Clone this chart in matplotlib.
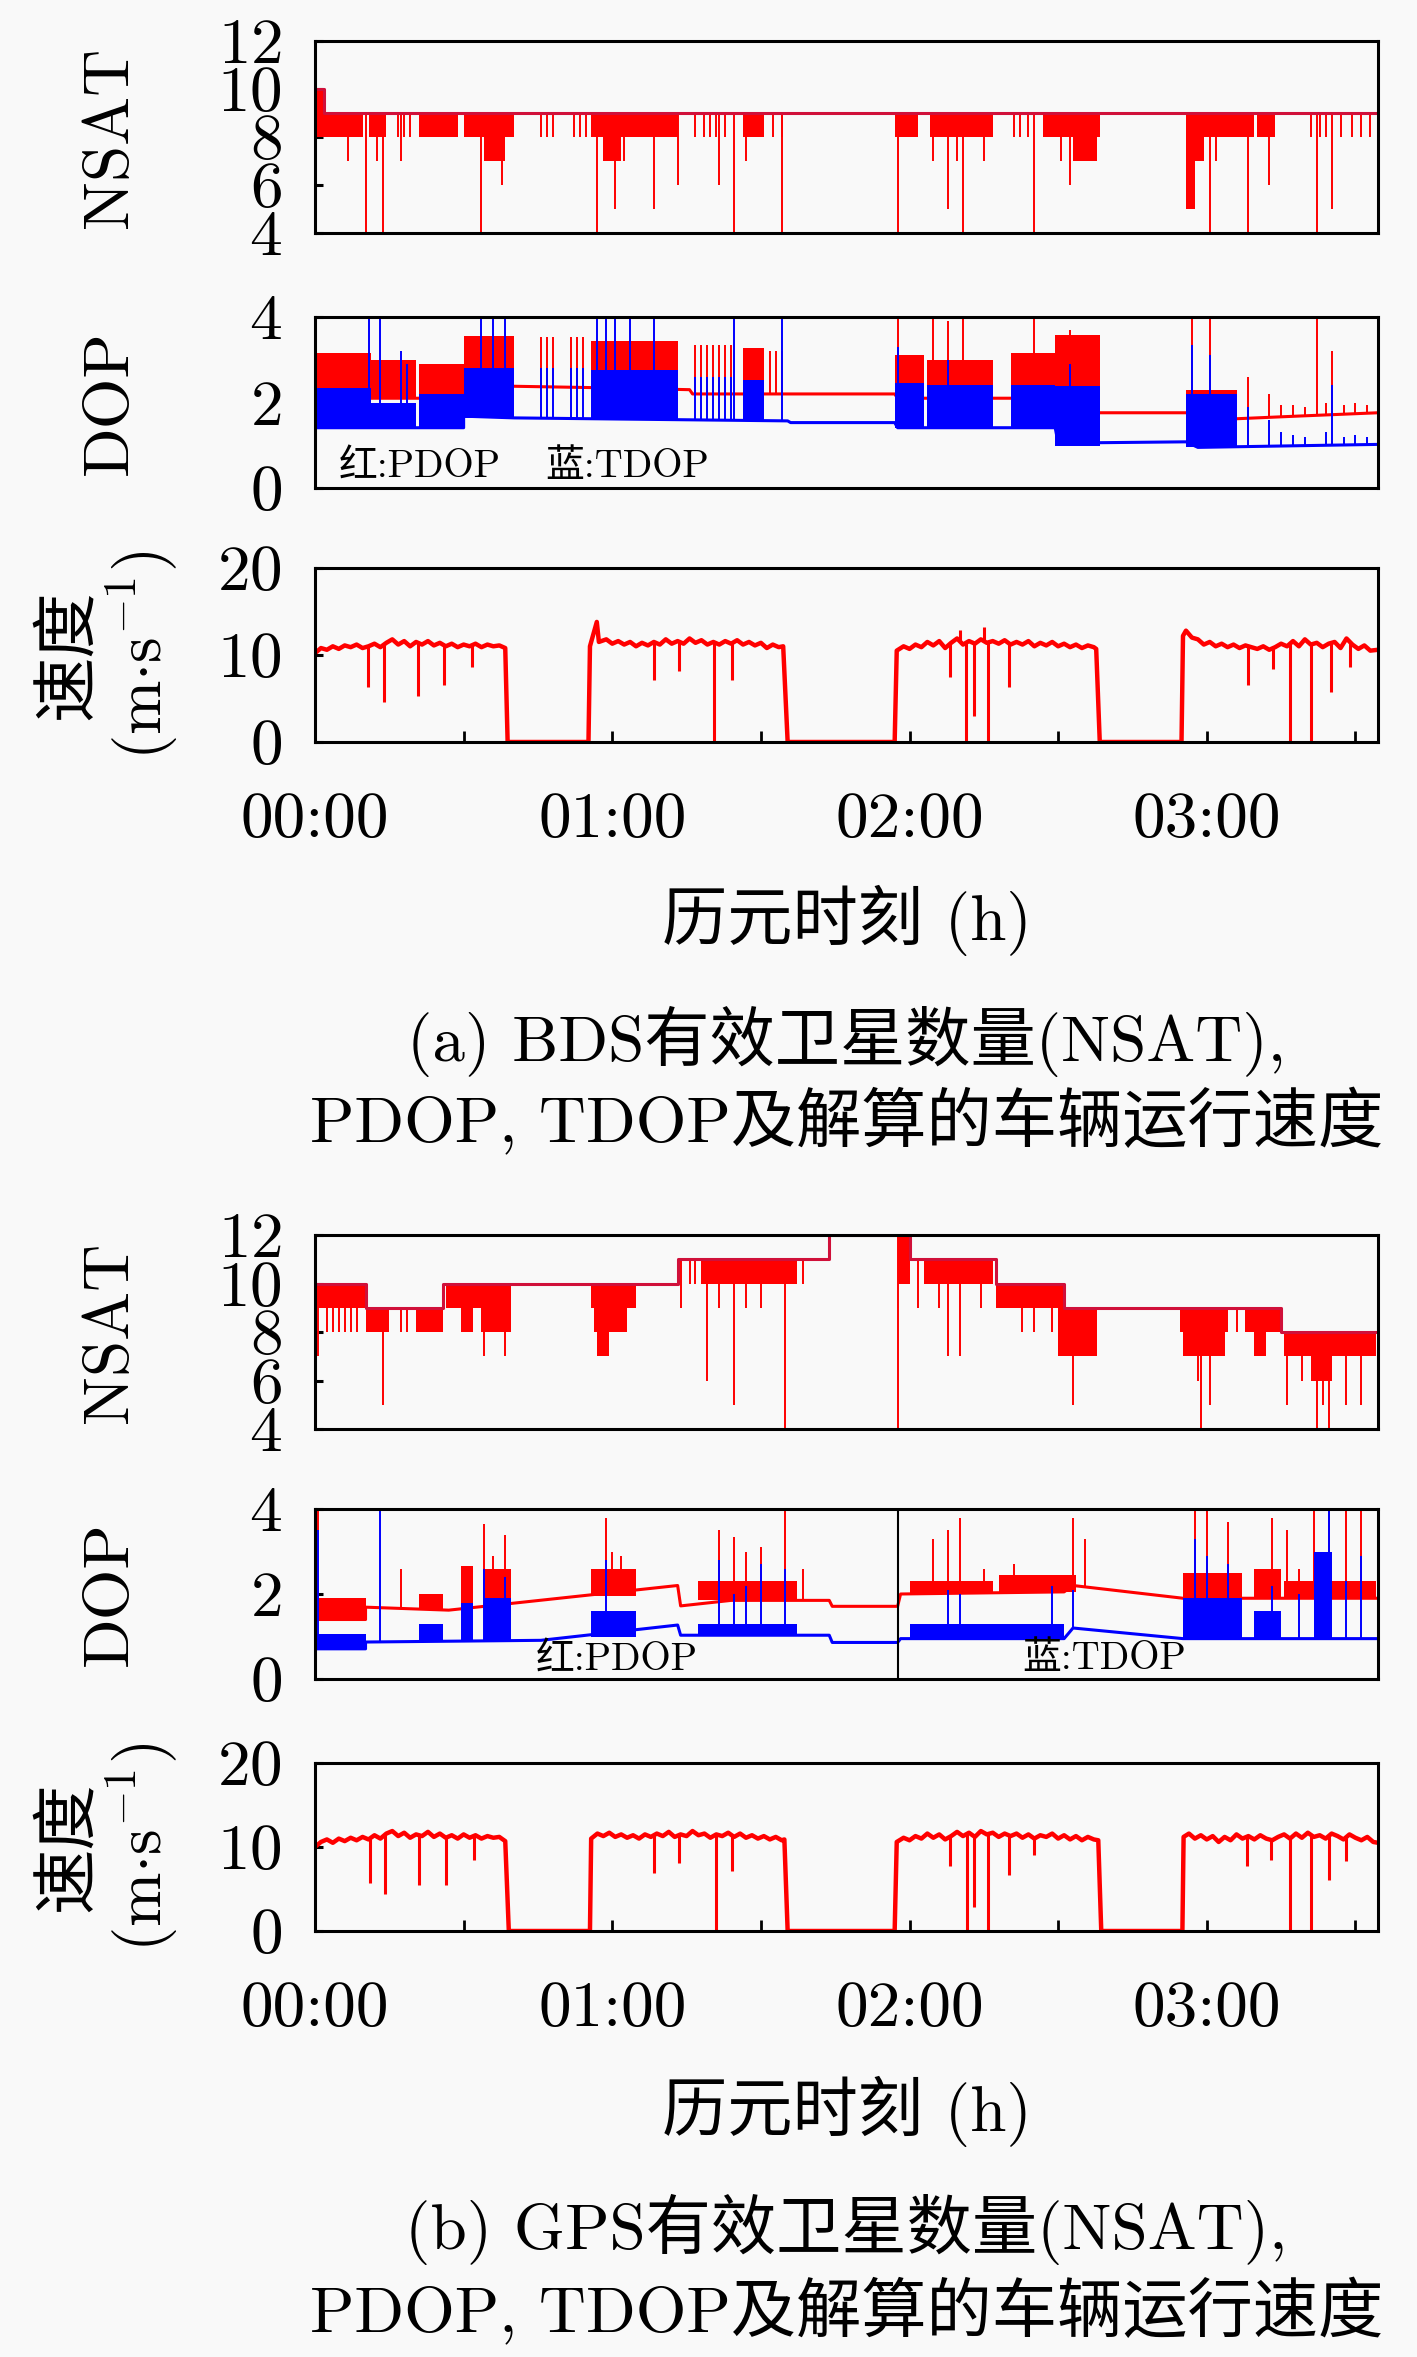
import numpy as np
import matplotlib
matplotlib.use("Agg")
import matplotlib.pyplot as plt

plt.rcParams['font.family'] = ['cmr10', 'Noto Sans CJK SC']
plt.rcParams['mathtext.fontset'] = 'cm'
plt.rcParams['axes.unicode_minus'] = False
plt.rcParams['axes.formatter.use_mathtext'] = True

RED = '#ff0000'
BLUE = '#0000ff'
BG = '#f9f9f9'
T_END = 3.576

# ---------------- time axis ----------------
xtick_pos = [0, 1, 2, 3]
xtick_lab = ['00:00', '01:00', '02:00', '03:00']
xminor_pos = [0.5, 1.5, 2.5, 3.5]

# ================= (a) BDS =================
nsat_a_base_t = [0.0, 0.03, T_END]
nsat_a_base_v = [10, 9, 9]
nsat_a_band_t0 = [0.00, 0.03, 0.18, 0.35, 0.50, 0.93, 1.44, 1.95, 2.07, 2.45, 2.93, 3.17, 0.57, 0.97, 2.55, 2.93, 2.93]
nsat_a_band_t1 = [0.03, 0.16, 0.24, 0.48, 0.67, 1.22, 1.51, 2.03, 2.28, 2.64, 3.16, 3.23, 0.64, 1.03, 2.63, 2.99, 2.96]
nsat_a_band_lo = [8, 8, 8, 8, 8, 8, 8, 8, 8, 8, 8, 8, 7, 7, 7, 7, 5]
nsat_a_band_hi = [10, 9, 9, 9, 9, 9, 9, 9, 9, 9, 9, 9, 8, 8, 8, 8, 7]
nsat_a_spk_t = [0.28, 0.30, 0.32, 0.76, 0.78, 0.80, 0.87, 0.89, 0.91, 1.28, 1.31, 1.33, 1.35, 1.38,
                1.54, 1.57, 2.35, 2.37, 2.40, 3.35, 3.38, 3.40, 3.45, 3.49, 3.52, 3.55,
                0.11, 0.17, 0.21, 0.23, 0.29, 0.56, 0.63, 0.95, 1.01, 1.04, 1.14, 1.22, 1.36, 1.41,
                1.45, 1.57, 1.96, 2.08, 2.13, 2.16, 2.18, 2.25, 2.42, 2.51, 2.54, 2.95, 3.01, 3.03,
                3.14, 3.21, 3.37, 3.42]
nsat_a_spk_v = [8, 8, 8, 8, 8, 8, 8, 8, 8, 8, 8, 8, 8, 8,
                8, 8, 8, 8, 8, 8, 8, 8, 8, 8, 8, 8,
                7, 4, 7, 4, 7, 4, 6, 4, 5, 7, 5, 6, 6, 4,
                7, 4, 4, 7, 5, 7, 4, 7, 4, 7, 6, 5, 4, 7,
                4, 6, 4, 5]

pdop_a_base_t = [0, 0.50, 0.50, 0.92, 1.26, 1.27, 1.95, 1.96, 2.55, 2.56, 2.93, 3.10, 3.30, T_END]
pdop_a_base_v = [2.1, 2.1, 2.4, 2.35, 2.3, 2.2, 2.2, 2.1, 2.1, 1.76, 1.76, 1.62, 1.68, 1.76]
pdop_a_band_t0 = [0.00, 0.19, 0.35, 0.50, 0.93, 1.44, 1.95, 2.06, 2.34, 2.49, 2.93]
pdop_a_band_t1 = [0.19, 0.34, 0.50, 0.67, 1.22, 1.51, 2.05, 2.28, 2.49, 2.64, 3.10]
pdop_a_band_lo = [2.1, 2.1, 2.1, 2.4, 2.35, 2.3, 2.1, 2.1, 2.1, 2.1, 1.7]
pdop_a_band_hi = [3.15, 3.0, 2.9, 3.56, 3.45, 3.27, 3.1, 3.0, 3.15, 3.57, 2.3]
pdop_a_spk_t = [0.76, 0.78, 0.80, 0.86, 0.88, 0.90, 1.28, 1.30, 1.32, 1.34, 1.36, 1.38, 1.40,
                1.53, 1.55, 1.57, 1.96, 2.08, 2.18, 2.42, 2.95, 3.01, 3.37, 2.13, 2.54,
                3.14, 3.21, 3.25, 3.29, 3.33, 3.40, 3.42, 3.46, 3.50, 3.54]
pdop_a_spk_v = [3.54, 3.54, 3.54, 3.54, 3.54, 3.54, 3.34, 3.34, 3.34, 3.34, 3.34, 3.34, 3.34,
                3.2, 3.2, 3.2, 4, 4, 4, 4, 4, 4, 4, 3.9, 3.7,
                2.6, 2.2, 1.95, 1.95, 1.9, 2.0, 3.2, 1.95, 2.0, 1.95]

tdop_a_base_t = [0, 0.50, 0.50, 0.67, 1.59, 1.60, 1.95, 1.96, 2.49, 2.50, 2.93, 2.97, T_END]
tdop_a_base_v = [1.41, 1.41, 1.68, 1.64, 1.57, 1.53, 1.53, 1.41, 1.41, 1.05, 1.08, 0.95, 1.02]
tdop_a_band_t0 = [0.00, 0.19, 0.35, 0.50, 0.93, 1.44, 1.95, 2.06, 2.34, 2.49, 2.93]
tdop_a_band_t1 = [0.19, 0.34, 0.50, 0.67, 1.22, 1.51, 2.05, 2.28, 2.49, 2.64, 3.10]
tdop_a_band_lo = [1.41, 1.41, 1.41, 1.64, 1.60, 1.58, 1.41, 1.41, 1.41, 0.99, 0.95]
tdop_a_band_hi = [2.35, 2.0, 2.2, 2.8, 2.75, 2.53, 2.45, 2.40, 2.40, 2.38, 2.2]
tdop_a_spk_t = [0.18, 0.22, 0.29, 0.31, 0.56, 0.60, 0.64, 0.76, 0.78, 0.80, 0.86, 0.88, 0.90,
                0.95, 0.98, 1.01, 1.06, 1.14, 1.28, 1.30, 1.32, 1.34, 1.36, 1.38, 1.40,
                1.41, 1.57, 1.96, 2.13, 2.54, 2.95, 3.01, 3.14, 3.21, 3.25, 3.29, 3.33,
                3.40, 3.42, 3.46, 3.50, 3.54]
tdop_a_spk_v = [4, 4, 3.2, 2.9, 4, 4, 4, 2.8, 2.8, 2.8, 2.8, 2.8, 2.8,
                4, 4, 4, 4, 4, 2.6, 2.6, 2.6, 2.6, 2.6, 2.6, 2.6,
                4, 4, 3.3, 3.0, 2.9, 3.35, 3.1, 1.9, 1.6, 1.3, 1.25, 1.2,
                1.3, 2.4, 1.2, 1.25, 1.2]

speed_a_t = [0.0, 0.02, 0.04, 0.06, 0.08, 0.10, 0.12, 0.14, 0.16, 0.18, 0.20, 0.22, 0.24, 0.26,
             0.28, 0.30, 0.32, 0.34, 0.36, 0.38, 0.40, 0.42, 0.44, 0.46, 0.48, 0.50, 0.52, 0.54,
             0.56, 0.58, 0.60, 0.62, 0.64, 0.648, 0.92,
             0.925, 0.948, 0.955, 0.98, 1.00, 1.02, 1.04, 1.06, 1.08, 1.10, 1.12, 1.14, 1.16,
             1.18, 1.20, 1.22, 1.24, 1.26, 1.28, 1.30, 1.32, 1.34, 1.36, 1.38, 1.40, 1.42, 1.44,
             1.46, 1.48, 1.50, 1.52, 1.54, 1.56, 1.575, 1.59, 1.95,
             1.957, 1.98, 2.00, 2.02, 2.04, 2.06, 2.08, 2.10, 2.12, 2.14, 2.16, 2.18, 2.20, 2.22,
             2.24, 2.26, 2.28, 2.30, 2.32, 2.34, 2.36, 2.38, 2.40, 2.42, 2.44, 2.46, 2.48, 2.50,
             2.52, 2.54, 2.56, 2.58, 2.60, 2.62, 2.628, 2.64, 2.915,
             2.92, 2.93, 2.95, 2.97, 2.99, 3.01, 3.03, 3.05, 3.07, 3.09, 3.11, 3.13, 3.15, 3.17,
             3.19, 3.21, 3.23, 3.25, 3.27, 3.29, 3.31, 3.33, 3.35, 3.37, 3.39, 3.41, 3.43, 3.45,
             3.47, 3.49, 3.51, 3.53, 3.55, T_END]
speed_a_v = [10.2, 10.8, 10.6, 11.0, 10.7, 11.1, 10.9, 11.2, 10.8, 11.0, 11.3, 10.9, 11.4, 11.8,
             11.2, 11.6, 11.0, 11.5, 11.2, 11.6, 11.1, 11.4, 11.0, 11.3, 10.9, 11.2, 11.0, 11.3,
             10.9, 11.2, 11.0, 11.1, 10.8, 0.0, 0.0,
             11.0, 13.8, 11.5, 11.8, 11.3, 11.6, 11.2, 11.5, 11.0, 11.4, 11.1, 11.5, 11.2,
             11.8, 11.3, 11.6, 11.3, 11.9, 11.4, 11.7, 11.2, 11.5, 11.2, 11.6, 11.3, 11.7, 11.2,
             11.5, 11.1, 11.4, 10.8, 11.2, 10.9, 11.0, 0.0, 0.0,
             10.5, 11.0, 10.7, 11.2, 10.9, 11.5, 11.1, 11.6, 10.8, 11.4, 11.9, 11.2, 11.6, 11.3,
             11.8, 11.4, 11.6, 11.3, 11.7, 11.2, 11.5, 11.2, 11.6, 11.0, 11.4, 11.1, 11.5, 11.0,
             11.3, 10.9, 11.2, 10.8, 11.1, 10.9, 10.7, 0.0, 0.0,
             12.2, 12.8, 12.0, 11.8, 11.2, 11.5, 11.0, 11.3, 10.9, 11.2, 10.8, 11.1, 10.9, 10.7,
             11.0, 10.6, 10.9, 11.3, 11.0, 11.6, 11.0, 11.8, 11.2, 11.4, 10.9, 11.3, 11.5, 10.8,
             11.9, 11.2, 10.7, 11.1, 10.5, 10.6]
speed_a_dip_t = [0.177, 0.232, 0.345, 0.433, 0.527, 1.142, 1.225, 1.343, 1.402, 2.135, 2.17,
                 2.189, 2.217, 2.25, 2.265, 2.336, 3.139, 3.222, 3.281, 3.352, 3.418, 3.482]
speed_a_dip_v = [6.3, 4.6, 5.3, 6.5, 8.6, 7.1, 8.2, 0.0, 7.1, 7.5, 12.9,
                 0.0, 3.0, 13.2, 0.0, 6.3, 6.5, 8.4, 0.0, 0.0, 5.7, 8.6]

# ================= (b) GPS =================
nsat_b_base_t = [0, 0.17, 0.43, 1.22, 1.73, 2.00, 2.29, 2.52, 3.25, T_END]
nsat_b_base_v = [10, 9, 10, 11, 12, 11, 10, 9, 8, 8]
nsat_b_band_t0 = [0.00, 0.17, 0.34, 0.44, 0.49, 0.56, 0.93, 0.94, 0.95, 1.30, 1.96, 2.05, 2.29,
                  2.50, 2.91, 2.92, 3.13, 3.16, 3.26, 3.35]
nsat_b_band_t1 = [0.17, 0.25, 0.43, 0.66, 0.53, 0.66, 1.08, 1.05, 0.99, 1.62, 2.00, 2.28, 2.52,
                  2.63, 3.07, 3.06, 3.25, 3.20, 3.57, 3.42]
nsat_b_band_lo = [9, 8, 8, 9, 8, 8, 9, 8, 7, 10, 10, 10, 9, 7, 8, 7, 8, 7, 7, 6]
nsat_b_band_hi = [10, 9, 9, 10, 9, 9, 10, 9, 8, 11, 12, 11, 10, 9, 9, 8, 9, 8, 8, 7]
nsat_b_spk_t = [0.01, 0.04, 0.06, 0.08, 0.10, 0.12, 0.14, 0.23, 0.29, 0.31, 0.57, 0.64,
                1.23, 1.26, 1.28, 1.32, 1.36, 1.41, 1.45, 1.50, 1.58, 1.64, 1.96,
                2.03, 2.10, 2.13, 2.17, 2.24, 2.38, 2.42, 2.48, 2.55,
                2.97, 2.98, 3.01, 3.10, 3.27, 3.32, 3.37, 3.39, 3.41, 3.47, 3.52]
nsat_b_spk_v = [7, 8, 8, 8, 8, 8, 8, 5, 8, 8, 7, 7,
                9, 10, 10, 6, 9, 5, 9, 9, 4, 10, 4,
                9, 9, 7, 7, 9, 8, 8, 8, 5,
                6, 4, 5, 8, 5, 6, 4, 5, 4, 5, 5]

pdop_b_base_t = [0, 0.17, 0.17, 0.45, 1.22, 1.23, 1.40, 1.73, 1.74, 1.96, 1.97, 2.52, 2.55, 2.92, T_END]
pdop_b_base_v = [1.4, 1.4, 1.69, 1.62, 2.2, 1.72, 1.85, 1.85, 1.71, 1.71, 2.0, 2.05, 2.2, 1.9, 1.9]
pdop_b_band_t0 = [0.00, 0.35, 0.49, 0.57, 0.93, 1.29, 2.00, 2.30, 2.92, 3.16, 3.26]
pdop_b_band_t1 = [0.17, 0.43, 0.53, 0.66, 1.08, 1.62, 2.28, 2.56, 3.12, 3.25, 3.57]
pdop_b_band_lo = [1.4, 1.65, 1.62, 1.62, 1.95, 1.85, 2.0, 2.05, 1.9, 1.9, 1.9]
pdop_b_band_hi = [1.9, 2.0, 2.65, 2.6, 2.6, 2.3, 2.3, 2.45, 2.5, 2.6, 2.3]
pdop_b_spk_t = [0.01, 0.29, 0.57, 0.60, 0.64, 0.98, 1.00, 1.03, 1.36, 1.41, 1.45, 1.50, 1.58,
                1.64, 1.96, 2.08, 2.13, 2.17, 2.25, 2.35, 2.55, 2.59, 2.96, 3.00, 3.07,
                3.22, 3.27, 3.31, 3.36, 3.41, 3.47, 3.52]
pdop_b_spk_v = [4, 2.6, 3.65, 2.9, 3.4, 3.8, 3.0, 2.9, 3.5, 3.35, 3.0, 3.1, 4,
                2.6, 4, 3.3, 3.5, 3.8, 2.6, 2.7, 3.8, 3.3, 4, 4, 3.7,
                3.8, 3.5, 2.6, 4, 4, 4, 4]

tdop_b_base_t = [0, 0.17, 0.17, 0.76, 1.22, 1.23, 1.73, 1.74, 1.96, 1.97, 2.52, 2.55, 2.92, T_END]
tdop_b_base_v = [0.71, 0.71, 0.87, 0.91, 1.27, 1.03, 1.03, 0.86, 0.86, 0.95, 0.95, 1.2, 0.95, 0.95]
tdop_b_band_t0 = [0.00, 0.35, 0.49, 0.57, 0.93, 1.29, 2.00, 2.92, 3.16, 3.36]
tdop_b_band_t1 = [0.17, 0.43, 0.53, 0.66, 1.08, 1.62, 2.52, 3.12, 3.25, 3.42]
tdop_b_band_lo = [0.71, 0.87, 0.88, 0.88, 1.0, 1.03, 0.95, 0.95, 0.95, 0.95]
tdop_b_band_hi = [1.05, 1.3, 1.8, 1.9, 1.6, 1.3, 1.3, 1.9, 1.6, 3.0]
tdop_b_spk_t = [0.01, 0.22, 0.57, 0.64, 0.98, 1.36, 1.41, 1.45, 1.50, 1.58, 1.96, 2.13, 2.17,
                2.48, 2.55, 2.96, 3.00, 3.07, 3.22, 3.31, 3.41, 3.47, 3.52]
tdop_b_spk_v = [3.5, 4, 2.6, 2.4, 2.8, 2.8, 2.0, 2.2, 2.7, 2.6, 2.0, 2.1, 2.0,
                2.2, 2.1, 3.3, 2.9, 2.7, 2.2, 2.0, 4, 2.3, 2.9]
dop_b_mark_t = [1.962]

speed_b_t = [0.0, 0.02, 0.04, 0.06, 0.08, 0.10, 0.12, 0.14, 0.16, 0.18, 0.20, 0.22, 0.24, 0.26,
             0.28, 0.30, 0.32, 0.34, 0.36, 0.38, 0.40, 0.42, 0.44, 0.46, 0.48, 0.50, 0.52, 0.54,
             0.56, 0.58, 0.60, 0.62, 0.64, 0.652, 0.925,
             0.929, 0.95, 0.97, 0.99, 1.01, 1.03, 1.05, 1.07, 1.09, 1.11, 1.13, 1.15, 1.17,
             1.19, 1.21, 1.23, 1.25, 1.27, 1.29, 1.31, 1.33, 1.35, 1.37, 1.39, 1.41, 1.43, 1.45,
             1.47, 1.49, 1.51, 1.53, 1.55, 1.57, 1.579, 1.59, 1.95,
             1.957, 1.98, 2.00, 2.02, 2.04, 2.06, 2.08, 2.10, 2.12, 2.14, 2.16, 2.18, 2.20, 2.22,
             2.24, 2.26, 2.28, 2.30, 2.32, 2.34, 2.36, 2.38, 2.40, 2.42, 2.44, 2.46, 2.48, 2.50,
             2.52, 2.54, 2.56, 2.58, 2.60, 2.62, 2.635, 2.645, 2.918,
             2.922, 2.94, 2.96, 2.98, 3.00, 3.02, 3.04, 3.06, 3.08, 3.10, 3.12, 3.14, 3.16, 3.18,
             3.20, 3.22, 3.24, 3.26, 3.28, 3.30, 3.32, 3.34, 3.36, 3.38, 3.40, 3.42, 3.44, 3.46,
             3.48, 3.50, 3.52, 3.54, 3.56, T_END]
speed_b_v = [10.0, 10.6, 10.9, 10.5, 11.0, 10.7, 11.1, 10.8, 11.2, 10.9, 11.4, 11.0, 11.6, 11.9,
             11.3, 11.7, 11.1, 11.5, 11.3, 11.8, 11.2, 11.6, 11.1, 11.4, 11.0, 11.5, 11.1, 11.4,
             11.0, 11.3, 11.1, 11.2, 10.7, 0.0, 0.0,
             11.0, 11.6, 11.3, 11.7, 11.2, 11.5, 11.1, 11.4, 11.0, 11.5, 11.2, 11.6, 11.3,
             11.8, 11.2, 11.5, 11.3, 11.9, 11.4, 11.6, 11.1, 11.5, 11.3, 11.7, 11.2, 11.6, 11.1,
             11.4, 11.0, 11.3, 10.9, 11.2, 10.8, 10.9, 0.0, 0.0,
             10.6, 11.1, 10.8, 11.3, 11.0, 11.6, 11.1, 11.5, 10.9, 11.3, 11.8, 11.3, 11.7, 11.2,
             11.9, 11.5, 11.7, 11.2, 11.6, 11.3, 11.6, 11.1, 11.5, 11.0, 11.4, 11.2, 11.6, 11.0,
             11.4, 10.9, 11.3, 10.8, 11.2, 10.9, 10.8, 0.0, 0.0,
             11.2, 11.6, 11.0, 11.4, 10.9, 11.3, 10.6, 11.2, 10.8, 11.5, 11.0, 11.3, 10.9, 11.4,
             11.0, 10.8, 11.2, 11.5, 11.0, 11.6, 11.1, 11.7, 11.2, 11.4, 11.0, 11.6, 11.3, 10.9,
             11.5, 11.1, 10.8, 11.2, 10.6, 10.5]
speed_b_dip_t = [0.184, 0.236, 0.35, 0.44, 0.534, 1.142, 1.225, 1.35, 1.402, 2.135, 2.194,
                 2.217, 2.265, 2.336, 2.418, 3.135, 3.217, 3.281, 3.352, 3.411, 3.47]
speed_b_dip_v = [5.7, 4.4, 5.5, 5.5, 8.5, 6.9, 8.1, 0.0, 7.1, 7.7, 0.0,
                 2.8, 0.0, 6.7, 9.1, 7.7, 8.5, 0.0, 0.0, 6.1, 8.3]

# ---------------- layout ----------------
FW, FH = 1417, 2357
fig = plt.figure(figsize=(FW / 100, FH / 100), dpi=100, facecolor=BG)
AX_L, AX_R = 315, 1378
FS = 47


def make_ax(top, bottom):
    ax = fig.add_axes([AX_L / FW, 1 - bottom / FH, (AX_R - AX_L) / FW, (bottom - top) / FH])
    ax.set_facecolor(BG)
    ax.set_xlim(0, T_END)
    for s in ax.spines.values():
        s.set_linewidth(2.2)
        s.set_zorder(5)
    ax.tick_params(axis='y', direction='in', length=6, width=2.2, labelsize=FS, pad=24,
                   right=False)
    ax.tick_params(axis='x', direction='in', length=8, width=2.0, labelsize=FS, pad=36,
                   top=False)
    ax.tick_params(axis='x', which='minor', direction='in', length=8, width=2.0, top=False)
    return ax


def step_val(bt, bv, t):
    idx = np.searchsorted(np.asarray(bt), np.asarray(t), side='right') - 1
    return np.asarray(bv)[np.clip(idx, 0, len(bv) - 1)]


def draw_nsat(ax, bt, bv, b0, b1, blo, bhi, st, sv):
    for t0, t1, lo, hi in zip(b0, b1, blo, bhi):
        ax.fill_between([t0, t1], [lo, lo], [hi, hi], color=RED, lw=0, zorder=2)
    ax.vlines(st, sv, step_val(bt, bv, st), color=RED, lw=1.4, zorder=2)
    ax.step(bt, bv, where='post', color='#d0103a', lw=2.2, zorder=3)
    ax.set_ylim(4, 12)
    ax.set_yticks([4, 6, 8, 10, 12])
    ax.set_xticks([])
    ax.set_ylabel('NSAT', fontsize=FS)
    ax.yaxis.set_label_coords(-0.165, 0.5)


def draw_dop(ax, col, bt, bv, b0, b1, blo, bhi, st, sv):
    for t0, t1, lo, hi in zip(b0, b1, blo, bhi):
        ax.fill_between([t0, t1], [lo, lo], [hi, hi], color=col, lw=0, zorder=2)
    ax.vlines(st, np.interp(st, bt, bv), sv, color=col, lw=1.4, zorder=2)
    ax.plot(bt, bv, color=col, lw=2.2, zorder=2)


def finish_dop(ax):
    ax.set_ylim(0, 4)
    ax.set_yticks([0, 2, 4])
    ax.set_xticks([])
    ax.set_ylabel('DOP', fontsize=FS)
    ax.yaxis.set_label_coords(-0.165, 0.5)


def draw_speed(ax, t, v, dt, dv, top, bottom):
    ax.plot(t, v, color=RED, lw=3.2, zorder=2)
    ax.vlines(dt, np.interp(dt, t, v), dv, color=RED, lw=2.2, zorder=2)
    ax.set_ylim(0, 20)
    ax.set_yticks([0, 10, 20])
    ax.set_xticks(xtick_pos)
    ax.set_xticklabels(xtick_lab)
    ax.set_xticks(xminor_pos, minor=True)
    yc = 1 - (top + bottom) / 2 / FH
    fig.text(68 / FW, yc, '速度', rotation=90, ha='center', va='center', fontsize=FS)
    fig.text(143 / FW, yc, r'(m$\cdot$s$^{-1}$)', rotation=90, ha='center', va='center',
             fontsize=FS)


XC = (AX_L + AX_R) / 2 / FW

# ---------------- (a) ----------------
ax1 = make_ax(41, 233)
draw_nsat(ax1, nsat_a_base_t, nsat_a_base_v, nsat_a_band_t0, nsat_a_band_t1,
          nsat_a_band_lo, nsat_a_band_hi, nsat_a_spk_t, nsat_a_spk_v)

ax2 = make_ax(317, 488)
draw_dop(ax2, RED, pdop_a_base_t, pdop_a_base_v, pdop_a_band_t0, pdop_a_band_t1,
         pdop_a_band_lo, pdop_a_band_hi, pdop_a_spk_t, pdop_a_spk_v)
draw_dop(ax2, BLUE, tdop_a_base_t, tdop_a_base_v, tdop_a_band_t0, tdop_a_band_t1,
         tdop_a_band_lo, tdop_a_band_hi, tdop_a_spk_t, tdop_a_spk_v)
finish_dop(ax2)
ax2.text(0.022, 0.125, '红:PDOP', transform=ax2.transAxes, fontsize=28, va='center', ha='left')
ax2.text(0.217, 0.125, '蓝:TDOP', transform=ax2.transAxes, fontsize=28, va='center', ha='left')

ax3 = make_ax(568, 742)
draw_speed(ax3, speed_a_t, speed_a_v, speed_a_dip_t, speed_a_dip_v, 568, 742)

fig.text(XC, 1 - 920 / FH, '历元时刻 (h)', ha='center', va='center', fontsize=FS)
fig.text(XC, 1 - 1041 / FH, '(a) BDS有效卫星数量(NSAT),', ha='center', va='center', fontsize=FS)
fig.text(XC, 1 - 1120 / FH, 'PDOP, TDOP及解算的车辆运行速度', ha='center', va='center', fontsize=FS)

# ---------------- (b) ----------------
ax4 = make_ax(1235, 1429)
draw_nsat(ax4, nsat_b_base_t, nsat_b_base_v, nsat_b_band_t0, nsat_b_band_t1,
          nsat_b_band_lo, nsat_b_band_hi, nsat_b_spk_t, nsat_b_spk_v)

ax5 = make_ax(1509, 1679)
draw_dop(ax5, RED, pdop_b_base_t, pdop_b_base_v, pdop_b_band_t0, pdop_b_band_t1,
         pdop_b_band_lo, pdop_b_band_hi, pdop_b_spk_t, pdop_b_spk_v)
draw_dop(ax5, BLUE, tdop_b_base_t, tdop_b_base_v, tdop_b_band_t0, tdop_b_band_t1,
         tdop_b_band_lo, tdop_b_band_hi, tdop_b_spk_t, tdop_b_spk_v)
ax5.vlines(dop_b_mark_t, 0, 4, color='black', lw=1.5, zorder=3)
finish_dop(ax5)
ax5.text(0.208, 0.115, '红:PDOP', transform=ax5.transAxes, fontsize=28, va='center', ha='left')
ax5.text(0.665, 0.115, '蓝:TDOP', transform=ax5.transAxes, fontsize=28, va='center', ha='left')

ax6 = make_ax(1763, 1931)
draw_speed(ax6, speed_b_t, speed_b_v, speed_b_dip_t, speed_b_dip_v, 1763, 1931)

fig.text(XC, 1 - 2111 / FH, '历元时刻 (h)', ha='center', va='center', fontsize=FS)
fig.text(XC, 1 - 2229 / FH, '(b) GPS有效卫星数量(NSAT),', ha='center', va='center', fontsize=FS)
fig.text(XC, 1 - 2310 / FH, 'PDOP, TDOP及解算的车辆运行速度', ha='center', va='center', fontsize=FS)

fig.savefig('out.png', dpi=100, facecolor=BG)
